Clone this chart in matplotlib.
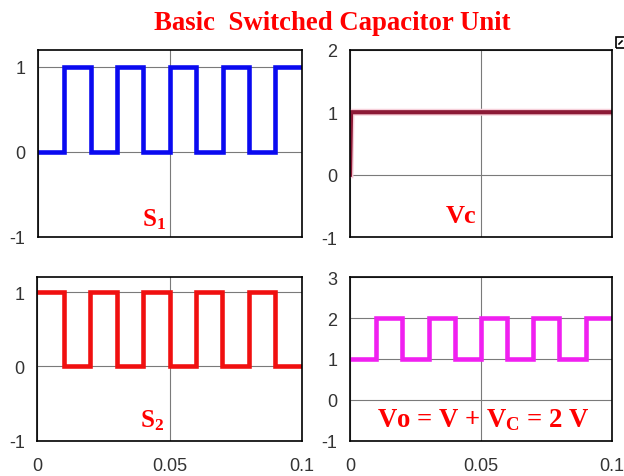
import matplotlib
matplotlib.use("Agg")
import matplotlib.pyplot as plt
from matplotlib.patches import Rectangle
from matplotlib.lines import Line2D

# ---- data ----
t_edges = [0, 0.01, 0.02, 0.03, 0.04, 0.05, 0.06, 0.07, 0.08, 0.09, 0.1]
s1_levels = [0, 1, 0, 1, 0, 1, 0, 1, 0, 1]
s2_levels = [1, 0, 1, 0, 1, 0, 1, 0, 1, 0]
vo_levels = [1, 2, 1, 2, 1, 2, 1, 2, 1, 2]
vc_t = [0, 0.0004, 0.1]
vc_v = [0, 1, 1]
x_ticks = [0, 0.05, 0.1]
x_ticklabels = ["0", "0.05", "0.1"]

plt.rcParams['mathtext.fontset'] = 'custom'
plt.rcParams['mathtext.rm'] = 'Liberation Serif:bold'
plt.rcParams['mathtext.it'] = 'Liberation Serif:bold'
plt.rcParams['mathtext.bf'] = 'Liberation Serif:bold'
plt.rcParams['mathtext.default'] = 'rm'

W, H = 624, 477
fig = plt.figure(figsize=(W / 100, H / 100), dpi=100)


def ax_at(l, t, r, b):
    return fig.add_axes([l / W, 1 - b / H, (r - l) / W, (b - t) / H])


def steps(levels):
    xs, ys = [], []
    for i, v in enumerate(levels):
        xs += [t_edges[i], t_edges[i + 1]]
        ys += [v, v]
    return xs, ys


def style(ax, ylim, yticks, show_x):
    ax.set_xlim(0, 0.1)
    ax.set_ylim(*ylim)
    ax.set_yticks(yticks)
    ax.set_yticklabels([str(v) for v in yticks])
    ax.set_xticks(x_ticks)
    if show_x:
        ax.set_xticklabels(x_ticklabels)
    else:
        ax.set_xticklabels([])
    ax.tick_params(length=0, labelsize=13, colors='#333333')
    ax.tick_params(axis='x', pad=12)
    ax.tick_params(axis='y', pad=9)
    for lab in ax.get_xticklabels() + ax.get_yticklabels():
        lab.set_family('Liberation Sans')
    ax.grid(True, color='#7a7a7a', lw=0.8)
    ax.set_axisbelow(True)
    for s in ax.spines.values():
        s.set_color('black')
        s.set_linewidth(1.2)


def txt_kw(size):
    return dict(color='#ff0000', fontsize=size, fontfamily='Liberation Serif',
                fontweight='bold', va='baseline', ha='left')


LW = 3.3

# Top-left S1
ax1 = ax_at(37.7, 50.7, 301.7, 238)
x, y = steps(s1_levels)
ax1.plot(x, y, color='#0a0af0', lw=LW, solid_joinstyle='miter')
style(ax1, (-1, 1.2), [-1, 0, 1], False)
ax1.text(0.394, 0.06, r'$\mathrm{S_1}$', transform=ax1.transAxes, **txt_kw(18))

# Top-right Vc
ax2 = ax_at(350, 50.7, 611.7, 238.3)
ax2.plot(vc_t, vc_v, color='#f7d0da', lw=5)
ax2.plot(vc_t, vc_v, color='#8c1a36', lw=3)
style(ax2, (-1, 2), [-1, 0, 1, 2], False)
ax2.text(0.367, 0.08, 'Vc', transform=ax2.transAxes, **txt_kw(19))

# Bottom-left S2
ax3 = ax_at(37.3, 278.3, 301.7, 441.7)
x, y = steps(s2_levels)
ax3.plot(x, y, color='#f01010', lw=LW, solid_joinstyle='miter')
style(ax3, (-1, 1.2), [-1, 0, 1], True)
ax3.text(0.388, 0.09, r'$\mathrm{S_2}$', transform=ax3.transAxes, **txt_kw(18))

# Bottom-right Vo
ax4 = ax_at(350, 278.3, 611.7, 441.7)
x, y = steps(vo_levels)
ax4.plot(x, y, color='#f020f0', lw=LW, solid_joinstyle='miter')
style(ax4, (-1, 3), [-1, 0, 1, 2, 3], True)
ax4.text(0.103, 0.09, r'Vo = V + V$_\mathrm{C}$ = 2 V', transform=ax4.transAxes,
         **txt_kw(19.3))

# Title
fig.text(332 / W, 1 - 24 / H, 'Basic  Switched Capacitor Unit', color='#ff0000',
         fontsize=19.3, fontfamily='Liberation Serif', fontweight='bold',
         ha='center', va='center')

# small icon at top right
fig.add_artist(Rectangle((615.5 / W, 1 - 48.5 / H), 10 / W, 10 / H, transform=fig.transFigure,
                         fill=False, edgecolor='black', lw=1.2))
fig.add_artist(Line2D([619 / W, 622 / W], [1 - 45 / H, 1 - 42 / H],
                      transform=fig.transFigure, color='black', lw=1.2))

fig.savefig('out.png', dpi=100)
